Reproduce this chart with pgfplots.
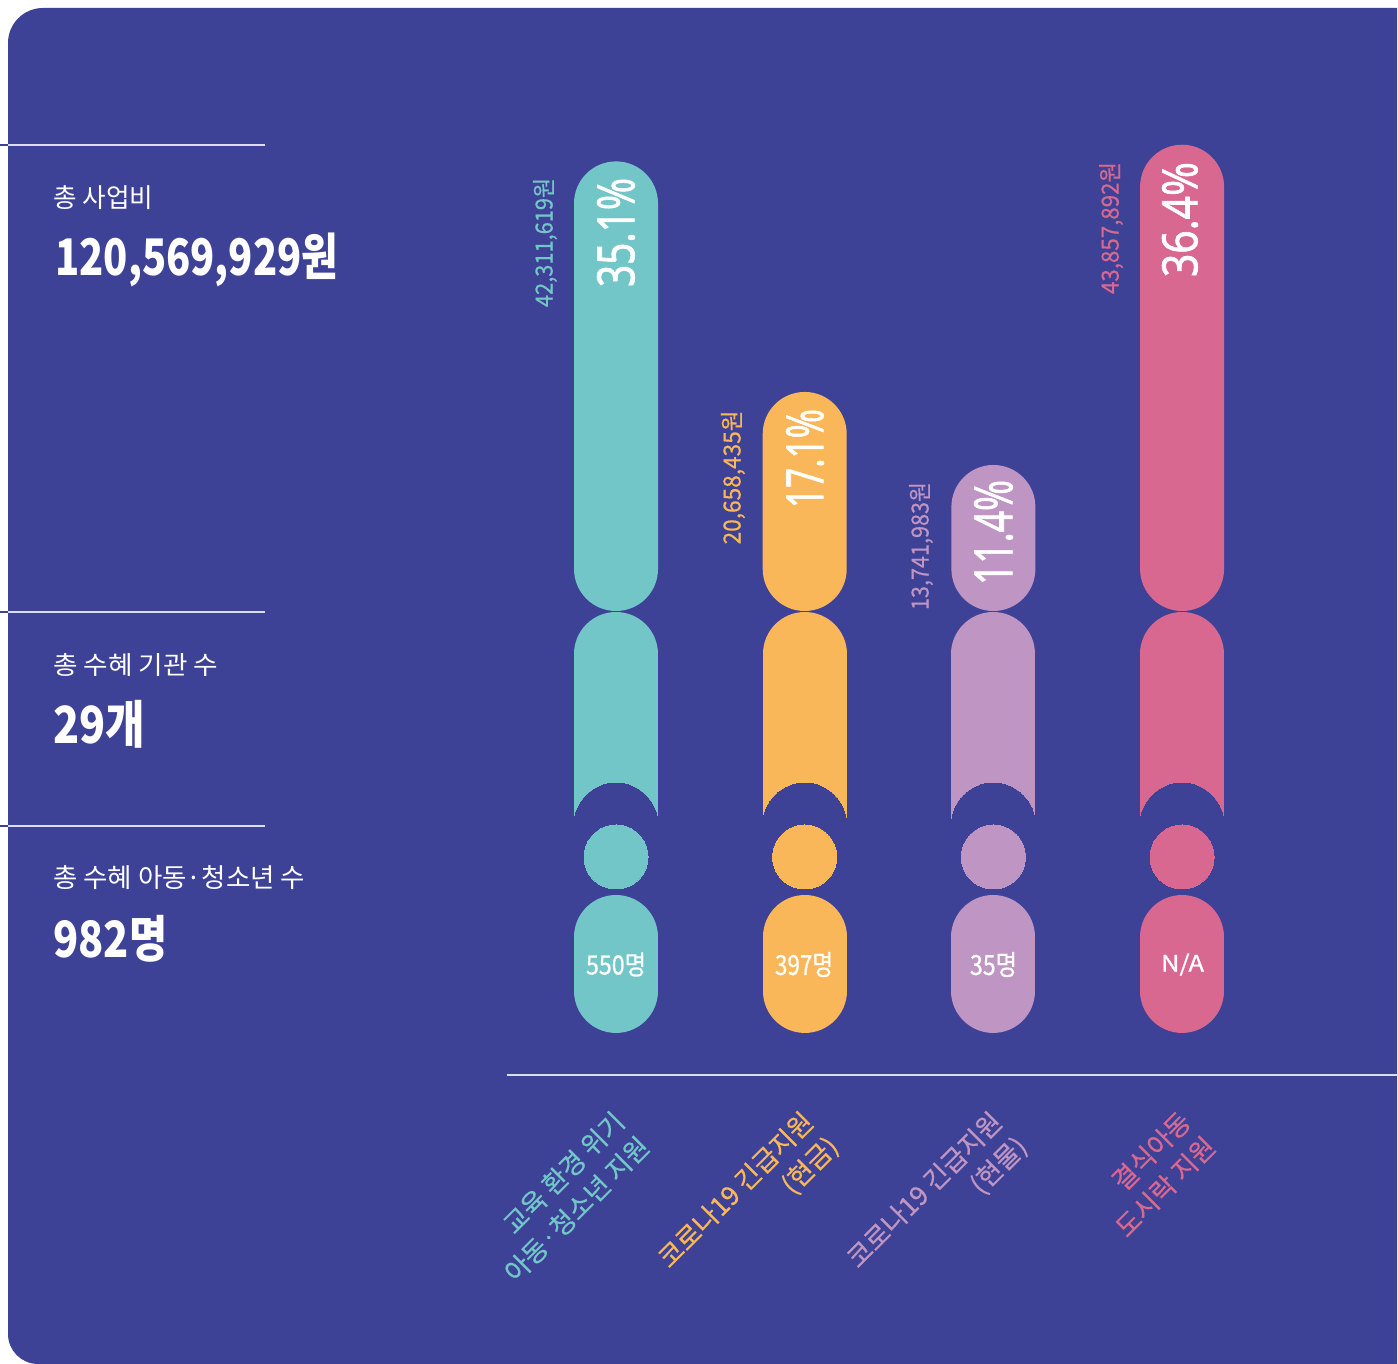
\documentclass[border=0pt]{standalone}
\usepackage{fontspec}
\usepackage{graphicx}
\usepackage{pgfplots}
\pgfplotsset{compat=1.18}
\setmainfont{Noto Sans CJK KR}
\newfontfamily\pctfont[FakeBold=1.4]{Noto Sans}
\newfontfamily\medfont[FakeBold=0.8]{Noto Sans CJK KR}
\newfontfamily\lblfont[FakeBold=0.5]{Noto Sans CJK KR}
\definecolor{bgc}{HTML}{3E4297}
\definecolor{cA}{HTML}{72C6C8}
\definecolor{cB}{HTML}{F9B75A}
\definecolor{cC}{HTML}{BF95C3}
\definecolor{cD}{HTML}{D8688F}
\definecolor{sep}{HTML}{DCDDF2}
\newcommand\fb[3]{\resizebox*{#1pt}{#2pt}{#3}}
\newcommand\catfont{\lblfont\fontsize{26.5pt}{35pt}\selectfont}
\newcommand\decor[2]{%
  \addplot[draw=#2, line width=84pt, line cap=round] coordinates {(#1,-3.357) (#1,-13.35)};
  \addplot[draw=#2, line width=84pt, line cap=butt] coordinates {(#1,-6.95) (#1,-16.55)};
  \addplot[only marks, mark=*, mark size=42pt, mark options={draw=bgc, fill=bgc, line width=0pt}] coordinates {(#1,-16.71)};
  \addplot[only marks, mark=*, mark size=32pt, mark options={draw=#2, fill=#2, line width=0pt}] coordinates {(#1,-19.20)};
  \addplot[draw=#2, line width=84pt, line cap=round] coordinates {(#1,-25.45) (#1,-29.66)};
}
\begin{document}
\begin{tikzpicture}
\useasboundingbox (0pt,0pt) rectangle (1398pt,1364pt);
\fill[white] (0pt,0pt) rectangle (1398pt,1364pt);
\fill[bgc] (1397pt,1356pt) -- (43pt,1356pt) arc[start angle=90, end angle=180, radius=35pt]
  -- (8pt,30pt) arc[start angle=180, end angle=270, radius=30pt] -- (1397pt,0pt) -- cycle;
% left separator lines
\foreach \yy in {1219,752,538} {
  \draw[sep, line width=1.5pt] (8pt,\yy pt) -- (265pt,\yy pt);
  \draw[bgc, line width=1.5pt] (0pt,\yy pt) -- (8pt,\yy pt);
}
\begin{axis}[at={(0pt,0pt)}, anchor=south west, scale only axis,
  width=1398pt, height=1364pt,
  xmin=-3.2646, xmax=4.1444, ymin=-58.782, ymax=47.697,
  hide axis, clip=false]
% share of total budget (%)
\addplot[ybar, bar width=84pt, bar shift=0pt, fill=cA, draw=none, rounded corners=42pt] coordinates {(0,35.1)};
\addplot[ybar, bar width=84pt, bar shift=0pt, fill=cB, draw=none, rounded corners=42pt] coordinates {(1,17.1)};
\addplot[ybar, bar width=84pt, bar shift=0pt, fill=cC, draw=none, rounded corners=42pt] coordinates {(2,11.4)};
\addplot[ybar, bar width=84pt, bar shift=0pt, fill=cD, draw=none, rounded corners=42pt] coordinates {(3,36.4)};
\decor{0}{cA}
\decor{1}{cB}
\decor{2}{cC}
\decor{3}{cD}
% baseline
\addplot[sep, line width=1.5pt] coordinates {(-0.578,-36.22) (4.1444,-36.22)};
% percentage labels
\node[rotate=90, inner sep=0pt, text=white] at (axis cs:0,29.55) {\fb{109}{38}{\pctfont 35.1\%}};
\node[rotate=90, inner sep=0pt, text=white] at (axis cs:1.0016,11.90) {\fb{99}{38}{\pctfont 17.1\%}};
\node[rotate=90, inner sep=0pt, text=white] at (axis cs:2.0006,6.13) {\fb{105}{39}{\pctfont 11.4\%}};
\node[rotate=90, inner sep=0pt, text=white] at (axis cs:2.989,30.56) {\fb{115}{36}{\pctfont 36.4\%}};
% amount labels
\node[rotate=90, inner sep=0pt, text=cA] at (axis cs:-0.3763,28.77) {\fb{129}{24}{\lblfont 42,311,619원}};
\node[rotate=90, inner sep=0pt, text=cB] at (axis cs:0.6200,10.43) {\fb{134}{24}{\lblfont 20,658,435원}};
\node[rotate=90, inner sep=0pt, text=cC] at (axis cs:1.6164,5.07) {\fb{128}{24}{\lblfont 13,741,983원}};
\node[rotate=90, inner sep=0pt, text=cD] at (axis cs:2.6239,29.90) {\fb{132}{24}{\lblfont 43,857,892원}};
% count labels
\node[inner sep=0pt, text=white] at (axis cs:0,-27.6) {\fb{60}{24}{\medfont 550명}};
\node[inner sep=0pt, text=white] at (axis cs:0.9964,-27.6) {\fb{58}{25}{\medfont 397명}};
\node[inner sep=0pt, text=white] at (axis cs:2.0006,-27.6) {\fb{47}{25}{\medfont 35명}};
\node[inner sep=0pt, text=white] at (axis cs:3.0023,-27.6) {\fb{43}{22}{\medfont N/A}};
% category labels
\node[rotate=45, anchor=north east, align=right, inner sep=0pt, text=cA, font=\catfont] at (axis cs:-0.0265,-38.80) {교육 환경 위기\\아동·청소년 지원};
\node[rotate=45, anchor=north east, align=right, inner sep=0pt, text=cB, font=\catfont] at (axis cs:0.9735,-38.80) {코로나19 긴급지원\\(현금)};
\node[rotate=45, anchor=north east, align=right, inner sep=0pt, text=cC, font=\catfont] at (axis cs:1.9735,-38.80) {코로나19 긴급지원\\(현물)};
\node[rotate=45, anchor=north east, align=right, inner sep=0pt, text=cD, font=\catfont] at (axis cs:2.9735,-38.80) {결식아동\\도시락 지원};
\end{axis}
% left panel
\node[anchor=north west, inner sep=0pt, text=white] at (53pt,1179pt) {\fb{100}{24}{총 사업비}};
\node[anchor=north west, inner sep=0pt, text=white] at (55pt,1131pt) {\fb{283}{54}{\bfseries 120,569,929원}};
\node[anchor=north west, inner sep=0pt, text=white] at (53pt,711pt) {\fb{165}{23}{총 수혜 기관 수}};
\node[anchor=north west, inner sep=0pt, text=white] at (53pt,664pt) {\fb{92}{48}{\bfseries 29개}};
\node[anchor=north west, inner sep=0pt, text=white] at (53pt,499pt) {\fb{252}{24}{총 수혜 아동·청소년 수}};
\node[anchor=north west, inner sep=0pt, text=white] at (53pt,449pt) {\fb{114}{47}{\bfseries 982명}};
\end{tikzpicture}
\end{document}
